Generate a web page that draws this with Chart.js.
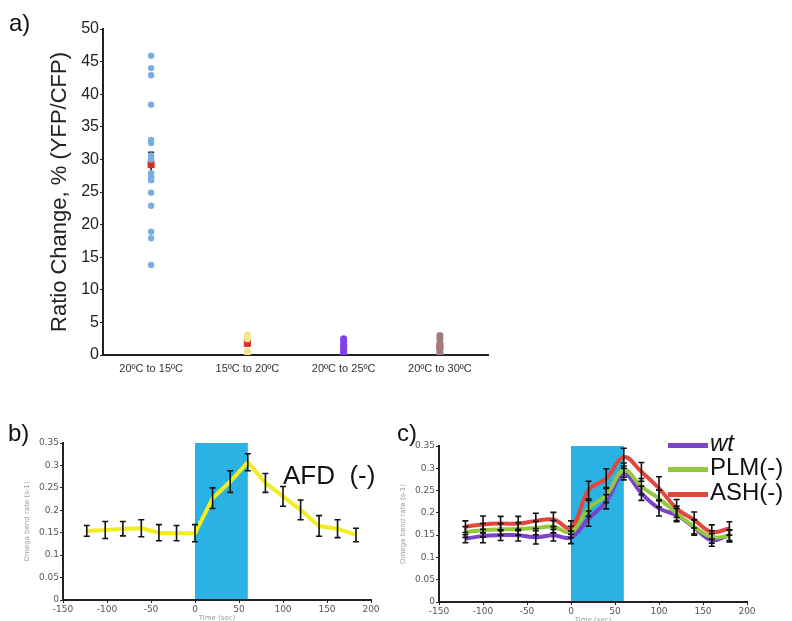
<!DOCTYPE html>
<html><head><meta charset="utf-8">
<script src="https://cdn.jsdelivr.net/npm/chart.js@4.4.1/dist/chart.umd.min.js"></script>
<style>
html,body{margin:0;padding:0;background:#fff;width:792px;height:621px;overflow:hidden;position:relative;font-family:"Liberation Sans",Arial,sans-serif}
canvas{position:absolute}
.lbl{position:absolute;color:#111;white-space:nowrap;line-height:1}
.leg{position:absolute;white-space:nowrap;line-height:1;font-size:24px;color:#111}
.sw{position:absolute;height:5px;width:40px}
</style></head><body>
<canvas id="ca" width="500" height="385" style="left:0px;top:0px"></canvas>
<canvas id="cb" width="390" height="192" style="left:0px;top:430px"></canvas>
<canvas id="cc" width="402" height="194" style="left:390px;top:430px"></canvas>
<div class="lbl" style="left:9px;top:11px;font-size:24px">a)</div>
<div class="lbl" style="left:8px;top:421px;font-size:24px">b)</div>
<div class="lbl" style="left:397px;top:421px;font-size:24px">c)</div>
<div class="lbl" style="left:283px;top:462px;font-size:26px">AFD&nbsp;&nbsp;(-)</div>
<div id="legend"></div>
<script>
// ---------- Panel a data ----------
const categories = ['20ºC to 15ºC', '15ºC to 20ºC', '20ºC to 25ºC', '20ºC to 30ºC'];
const cool20to15 = [45.9, 44.0, 42.9, 38.4, 33.0, 32.5, 30.6, 30.0, 27.9, 27.3, 26.8, 24.9, 22.9, 18.9, 17.9, 13.8];
const warm15to20 = [3.1, 2.5, 0.6, 0.0];
const warm20to25 = [2.5, 2.1, 1.5, 0.8, 0.3, 0.0];
const warm20to30 = [3.0, 2.5, 1.8, 1.0, 0.4, 0.0];
const groupMeans = [29.2, 1.8, 1.2, 1.3];
const groupErr = [1.9, 0.4, 0.3, 0.4];
const ratioTicks = [0, 50, 5];

// ---------- Panel b data ----------
const afdTimes = [-123, -102, -82, -61, -41, -21, 0, 20, 40, 60, 80, 100, 120, 141, 162, 183];
const afdRate = [0.154, 0.156, 0.159, 0.160, 0.150, 0.149, 0.149, 0.227, 0.264, 0.307, 0.261, 0.231, 0.201, 0.165, 0.159, 0.145];
const afdErr = [0.012, 0.019, 0.016, 0.019, 0.018, 0.017, 0.019, 0.023, 0.024, 0.019, 0.021, 0.022, 0.022, 0.023, 0.020, 0.015];

// ---------- Panel c data ----------
const cTimes = [-120, -100, -80, -60, -40, -20, 0, 20, 40, 60, 80, 100, 120, 140, 160, 180];
const wtRate = [0.142, 0.148, 0.150, 0.150, 0.145, 0.150, 0.145, 0.187, 0.225, 0.287, 0.244, 0.210, 0.195, 0.167, 0.139, 0.150];
const plmRate = [0.157, 0.161, 0.163, 0.164, 0.166, 0.169, 0.157, 0.210, 0.240, 0.296, 0.259, 0.232, 0.199, 0.169, 0.146, 0.148];
const ashRate = [0.169, 0.174, 0.176, 0.176, 0.182, 0.185, 0.167, 0.251, 0.277, 0.325, 0.292, 0.255, 0.210, 0.184, 0.157, 0.165];
const wtErr = [0.009, 0.015, 0.012, 0.013, 0.015, 0.013, 0.014, 0.017, 0.016, 0.013, 0.016, 0.017, 0.015, 0.017, 0.014, 0.012];
const plmErr = [0.012, 0.015, 0.013, 0.014, 0.015, 0.014, 0.013, 0.018, 0.017, 0.016, 0.018, 0.019, 0.016, 0.016, 0.014, 0.013];
const ashErr = [0.013, 0.019, 0.016, 0.016, 0.017, 0.016, 0.015, 0.020, 0.022, 0.020, 0.021, 0.026, 0.020, 0.018, 0.016, 0.015];
const seriesNames = ['wt', 'PLM(-)', 'ASH(-)'];
const seriesColors = ['#7b44c8', '#93c83e', '#e2473d'];

const timeTicks = [-150, 200, 50];
const rateTicks = [0, 0.35, 0.05];
const stimulusWindow = [0, 60];

Chart.defaults.font.family = "'Liberation Sans', Arial, sans-serif";

const errorBars = {
  id: 'errorBars',
  beforeDatasetsDraw(chart, args, o) { if (o.behind) drawErr(chart, o); },
  afterDatasetsDraw(chart, args, o) { if (!o.behind) drawErr(chart, o); }
};
function drawErr(chart, o) {
  const ctx = chart.ctx, ys = chart.scales.y;
  ctx.save();
  ctx.strokeStyle = '#111';
  ctx.lineWidth = o.width || 1.5;
  chart.data.datasets.forEach((ds, di) => {
    if (!ds.yErr) return;
    const meta = chart.getDatasetMeta(di);
    meta.data.forEach((el, i) => {
      const e = ds.yErr[i];
      if (e == null) return;
      const v = ds.data[i].y;
      const px = el.x, t = ys.getPixelForValue(v + e), b = ys.getPixelForValue(v - e);
      const c = o.cap || 3;
      ctx.beginPath();
      ctx.moveTo(px, t); ctx.lineTo(px, b);
      ctx.moveTo(px - c, t); ctx.lineTo(px + c, t);
      ctx.moveTo(px - c, b); ctx.lineTo(px + c, b);
      ctx.stroke();
    });
  });
  ctx.restore();
}
const stimulusBox = {
  id: 'stimulusBox',
  beforeDatasetsDraw(chart, args, o) {
    const {x, y} = chart.scales, ctx = chart.ctx;
    const l = x.getPixelForValue(o.from), r = x.getPixelForValue(o.to);
    const t = y.getPixelForValue(y.max), b = y.getPixelForValue(0) - 1;
    ctx.save();
    ctx.fillStyle = o.color;
    ctx.fillRect(l, t, r - l, b - t);
    ctx.restore();
  }
};

function pts(cat, vals) { return vals.map(v => ({x: cat, y: v})); }

// ---------- Panel a ----------
new Chart(document.getElementById('ca'), {
  type: 'scatter',
  data: {
    labels: categories,
    datasets: [
      {data: pts(categories[0], cool20to15), backgroundColor: '#79aee2', borderWidth: 0, pointRadius: 3.2},
      {data: pts(categories[1], warm15to20), backgroundColor: '#f3e68c', borderWidth: 0, pointRadius: 3.5},
      {data: pts(categories[2], warm20to25), backgroundColor: '#7e40f0', borderWidth: 0, pointRadius: 3.5},
      {data: pts(categories[3], warm20to30), backgroundColor: '#a07c7c', borderWidth: 0, pointRadius: 3.5},
      {data: categories.map((c, i) => ({x: c, y: groupMeans[i]})), yErr: groupErr, pointStyle: 'rect', pointRadius: 5, backgroundColor: '#d6302b', borderWidth: 0}
    ]
  },
  options: {
    responsive: false, animation: false, devicePixelRatio: 1,
    layout: {padding: {left: 0, top: 29, right: 12, bottom: 0}},
    plugins: {legend: {display: false}, tooltip: {enabled: false}, errorBars: {behind: true, cap: 3, width: 1.5}},
    scales: {
      x: {
        type: 'category', labels: categories, offset: true,
        grid: {display: true, drawOnChartArea: false, drawTicks: false},
        border: {color: '#222', width: 2},
        ticks: {padding: 7, color: '#333', font: {size: 11}},
        afterFit(s) { s.height = 30; }
      },
      y: {
        min: ratioTicks[0], max: ratioTicks[1],
        ticks: {stepSize: ratioTicks[2], padding: 1, color: '#222', font: {size: 16}},
        grid: {drawOnChartArea: false, tickLength: 3, color: '#222'},
        border: {color: '#222', width: 2},
        title: {display: true, text: 'Ratio Change, % (YFP/CFP)', color: '#222', font: {size: 22}, padding: {top: 47, bottom: 0}},
        afterFit(s) { s.width = 103; }
      }
    }
  },
  plugins: [errorBars]
});

function timeOptions(pad, yWidth, xHeight, yTitlePad) {
  return {
    responsive: false, animation: false, devicePixelRatio: 1,
    layout: {padding: pad},
    plugins: {legend: {display: false}, tooltip: {enabled: false},
      errorBars: {behind: false, cap: 3, width: 1.6},
      stimulusBox: {from: stimulusWindow[0], to: stimulusWindow[1], color: '#2bb2e4'}},
    scales: {
      x: {
        type: 'linear', min: timeTicks[0], max: timeTicks[1],
        ticks: {stepSize: timeTicks[2], padding: 1, color: '#555', font: {family: "'DejaVu Sans', sans-serif", size: 9}},
        grid: {drawOnChartArea: false, tickLength: 3, color: '#222'},
        border: {color: '#222', width: 2},
        title: {display: true, text: 'Time (sec)', color: '#999', font: {family: "'DejaVu Sans', sans-serif", size: 7}, padding: {top: 0, bottom: 0}},
        afterFit(s) { s.height = xHeight; }
      },
      y: {
        min: rateTicks[0], max: rateTicks[1],
        ticks: {stepSize: rateTicks[2], padding: 1, color: '#555', font: {family: "'DejaVu Sans', sans-serif", size: 9},
          callback: v => String(+(+v).toFixed(2))},
        grid: {drawOnChartArea: false, tickLength: 3, color: '#222'},
        border: {color: '#222', width: 2},
        title: {display: true, text: 'Omega bend rate (s-1)', color: '#999', font: {family: "'DejaVu Sans', sans-serif", size: 7}, padding: {top: yTitlePad, bottom: 0}},
        afterFit(s) { s.width = yWidth; }
      }
    }
  };
}

// ---------- Panel b ----------
new Chart(document.getElementById('cb'), {
  type: 'line',
  data: {datasets: [{
    data: afdTimes.map((t, i) => ({x: t, y: afdRate[i]})), yErr: afdErr,
    borderColor: '#f2ed1f', borderWidth: 4, pointRadius: 0, tension: 0, fill: false
  }]},
  options: timeOptions({left: 0, top: 13, right: 19, bottom: 0}, 63, 22, 23),
  plugins: [stimulusBox, errorBars]
});

// ---------- Panel c ----------
const cSeries = [wtRate, plmRate, ashRate];
const cErrs = [wtErr, plmErr, ashErr];
new Chart(document.getElementById('cc'), {
  type: 'line',
  data: {datasets: cSeries.map((s, k) => ({
    label: seriesNames[k],
    data: cTimes.map((t, i) => ({x: t, y: s[i]})), yErr: cErrs[k],
    borderColor: seriesColors[k], borderWidth: 4, pointRadius: 0, tension: 0.4, fill: false,
    order: 2 - k
  }))},
  options: timeOptions({left: 0, top: 16, right: 45, bottom: 0}, 49, 22, 9),
  plugins: [stimulusBox, errorBars]
});

// ---------- Legend for panel c ----------
const legend = document.getElementById('legend');
seriesNames.forEach((name, i) => {
  const top = 431 + i * 24.3;
  const sw = document.createElement('div');
  sw.className = 'sw';
  sw.style.left = '668px';
  sw.style.top = (top + 12) + 'px';
  sw.style.background = seriesColors[i];
  legend.appendChild(sw);
  const t = document.createElement('div');
  t.className = 'leg';
  t.style.left = '710px';
  t.style.top = top + 'px';
  if (i === 0) t.style.fontStyle = 'italic';
  t.textContent = name;
  legend.appendChild(t);
});
</script>
</body></html>
